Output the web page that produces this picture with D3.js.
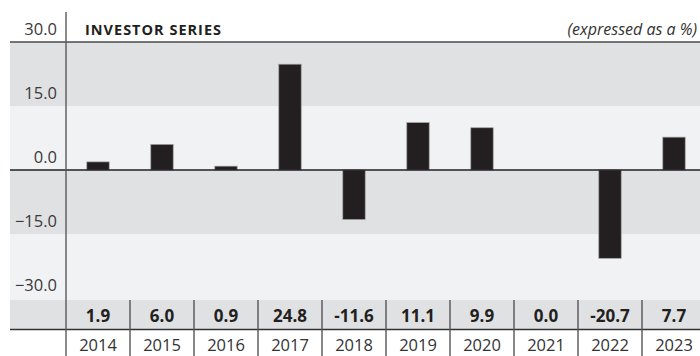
<!DOCTYPE html>
<html>
<head>
<meta charset="utf-8">
<script src="https://cdn.jsdelivr.net/npm/d3@7/dist/d3.min.js"></script>
<style>
  html, body { margin: 0; padding: 0; background: #ffffff; }
  svg { display: block; font-family: "Open Sans", "Noto Sans", sans-serif; }
</style>
</head>
<body>
<svg id="chart" width="700" height="356"></svg>
<script>
// Annual returns, Investor Series
const years = ["2014", "2015", "2016", "2017", "2018", "2019", "2020", "2021", "2022", "2023"];
const returns = [1.9, 6.0, 0.9, 24.8, -11.6, 11.1, 9.9, 0.0, -20.7, 7.7];
const yTicks = [30, 15, 0, -15, -30];
const valueLabels = ["1.9", "6.0", "0.9", "24.8", "-11.6", "11.1", "9.9", "0.0", "-20.7", "7.7"];

const W = 700, H = 356;
const left = 10, axisX = 66;
const svg = d3.select("#chart");

const x = d3.scaleBand().domain(years).range([axisX, axisX + 640]).padding(0);
const y = d3.scaleLinear().domain([-30, 30]).range([298, 42]);

const rowTop = 300, rowLine = 329.5;
const dark = "#e0e1e3", light = "#f1f2f4", ink = "#231f20";

// alternating horizontal bands
const bands = [
  { from: 30, to: 15, fill: dark },
  { from: 15, to: 0, fill: light },
  { from: 0, to: -15, fill: dark },
  { from: -15, to: -30, fill: light }
];
svg.append("g").selectAll("rect").data(bands).join("rect")
  .attr("x", left)
  .attr("width", W - left)
  .attr("y", d => y(d.from))
  .attr("height", d => (d.to === -30 ? rowTop : y(d.to)) - y(d.from))
  .attr("fill", d => d.fill);

// value row background
svg.append("rect")
  .attr("x", left).attr("y", rowTop)
  .attr("width", W - left).attr("height", rowLine - rowTop)
  .attr("fill", dark);

// y tick labels
svg.append("g").selectAll("text").data(yTicks).join("text")
  .attr("x", 57)
  .attr("y", d => y(d) - 7)
  .attr("text-anchor", "end")
  .attr("font-size", 16.5)
  .attr("fill", "#3a3a3a")
  .text(d => d3.format(".1f")(d));

// bars
const barW = x.bandwidth() * 0.35;
svg.append("g").selectAll("rect").data(returns.map((v, i) => ({ year: years[i], v })))
  .join("rect")
  .filter(d => d.v !== 0)
  .attr("x", d => x(d.year) + x.bandwidth() / 2 - barW / 2)
  .attr("width", barW)
  .attr("y", d => Math.min(y(d.v), y(0)))
  .attr("height", d => Math.abs(y(d.v) - y(0)))
  .attr("fill", ink)
  .attr("stroke", "#a0a0a0")
  .attr("stroke-width", 0.7);

// top rule, zero line, row divider
svg.append("line").attr("x1", left).attr("x2", W).attr("y1", y(30)).attr("y2", y(30))
  .attr("stroke", "#4a4a4a").attr("stroke-width", 1.4);
svg.append("line").attr("x1", left).attr("x2", W).attr("y1", y(0)).attr("y2", y(0))
  .attr("stroke", ink).attr("stroke-width", 1.5);
svg.append("line").attr("x1", left).attr("x2", W).attr("y1", rowLine).attr("y2", rowLine)
  .attr("stroke", "#333").attr("stroke-width", 1.4);

// column separators in the label rows
const seps = years.map(yr => x(yr)).slice(1);
svg.append("g").selectAll("line").data(seps).join("line")
  .attr("x1", d => d).attr("x2", d => d)
  .attr("y1", rowTop).attr("y2", H)
  .attr("stroke", "#555").attr("stroke-width", 1.4);

// vertical axis
svg.append("line").attr("x1", axisX).attr("x2", axisX).attr("y1", 12).attr("y2", H)
  .attr("stroke", "#5a5a5a").attr("stroke-width", 1.4);

// value labels
svg.append("g").selectAll("text").data(valueLabels).join("text")
  .attr("x", (d, i) => x(years[i]) + x.bandwidth() / 2)
  .attr("y", 322)
  .attr("text-anchor", "middle")
  .attr("font-size", 17)
  .attr("font-weight", "bold")
  .attr("fill", ink)
  .text(d => d);

// year labels
svg.append("g").selectAll("text").data(years).join("text")
  .attr("x", d => x(d) + x.bandwidth() / 2)
  .attr("y", 351)
  .attr("text-anchor", "middle")
  .attr("font-size", 16.5)
  .attr("fill", "#333")
  .text(d => d);

// title and unit note
svg.append("text")
  .attr("x", 85).attr("y", 35)
  .attr("font-size", 14.5)
  .attr("font-weight", "bold")
  .attr("letter-spacing", 1)
  .attr("fill", ink)
  .text("INVESTOR SERIES");
svg.append("text")
  .attr("x", 697).attr("y", 35)
  .attr("text-anchor", "end")
  .attr("font-size", 16)
  .attr("font-style", "italic")
  .attr("fill", "#333")
  .text("(expressed as a %)");
</script>
</body>
</html>
